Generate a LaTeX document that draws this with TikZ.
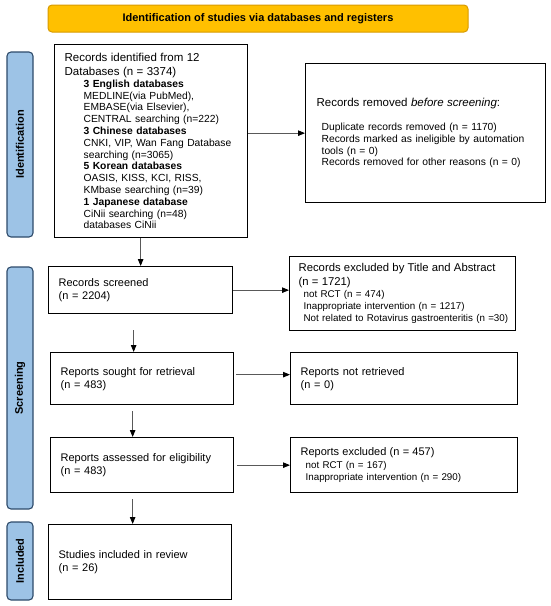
\documentclass[tikz,border=0pt]{standalone}
\usepackage{fontspec}
\setmainfont{Liberation Sans}
\usetikzlibrary{arrows.meta,calc}
\definecolor{bannerfill}{HTML}{FFC000}
\definecolor{bannerdraw}{HTML}{D89B00}
\definecolor{sidefill}{HTML}{9DC3E6}
\definecolor{sidedraw}{HTML}{2E4B6B}
\newcommand\mainsz{\fontsize{11.5}{13.5}\selectfont}
\newcommand\lowsz{\fontsize{11}{13}\selectfont}
\newcommand\subsz{\fontsize{10.3}{11.8}\selectfont}
\newcommand\subszb{\fontsize{9.8}{12.2}\selectfont}
\begin{document}
\begin{tikzpicture}[x=1pt,y=-1pt,
 box/.style={draw, line width=1.3pt, fill=white, anchor=north west, align=left, inner xsep=10pt, inner ysep=0pt},
 side/.style={draw=sidedraw, fill=sidefill, line width=1.1pt, rounded corners=4pt, inner sep=0pt, rotate=90, font=\fontsize{11}{13}\selectfont\bfseries},
 conn/.style={draw=black!65, line width=0.9pt, -{Triangle[length=7pt,width=5.5pt,color=black]}}
]
\fill[white] (0,0) rectangle (550,606);
\useasboundingbox (0,0) rectangle (550,606);

\node[draw=bannerdraw, fill=bannerfill, line width=1pt, rounded corners=4pt, minimum width=420pt, minimum height=27pt, inner sep=0pt, font=\fontsize{11}{13}\selectfont\bfseries] (banner) at (258,18.5) {Identification of studies via databases and registers};

\node[side, minimum width=185pt, minimum height=26pt] (sid) at (20,144.5) {Identification};
\node[side, minimum width=242pt, minimum height=26pt] (sscr) at (20,388) {Screening};
\node[side, minimum width=78pt, minimum height=26pt] (sinc) at (20,561) {Included};

\node[box, minimum width=193pt, minimum height=193pt, text width=173pt, font=\subsz] (id) at (54,44) {%
{\mainsz Records identified from 12\\[2.2pt] Databases (n = 3374)}\\
\hspace*{19pt}\textbf{3 English databases}\\
\hspace*{19pt}MEDLINE(via PubMed),\\
\hspace*{19pt}EMBASE(via Elsevier),\\
\hspace*{19pt}CENTRAL searching (n=222)\\
\hspace*{19pt}\textbf{3 Chinese databases}\\
\hspace*{19pt}CNKI, VIP, Wan Fang Database\\
\hspace*{19pt}searching (n=3065)\\
\hspace*{19pt}\textbf{5 Korean databases}\\
\hspace*{19pt}OASIS, KISS, KCI, RISS,\\
\hspace*{19pt}KMbase searching (n=39)\\
\hspace*{19pt}\textbf{1 Japanese database}\\
\hspace*{19pt}CiNii searching (n=48)\\
\hspace*{19pt}databases CiNii};

\node[box, minimum width=240pt, minimum height=139pt, text width=218pt, inner xsep=11pt, font=\subsz] (rem) at (305,63) {%
{\mainsz Records removed \textit{before screening}:}\\[12pt]
\hspace*{5pt}Duplicate records removed (n = 1170)\\
\hspace*{5pt}Records marked as ineligible by automation\\
\hspace*{5pt}tools (n = 0)\\
\hspace*{5pt}Records removed for other reasons (n = 0)};

\node[box, minimum width=184pt, minimum height=47pt, text width=164pt, font=\lowsz] (scr) at (48,266) {Records screened\\(n = 2204)};

\node[box, minimum width=226pt, minimum height=74pt, text width=216pt, inner xsep=5pt, font=\subszb] (exc) at (289,256) {%
{\fontsize{11.3}{13}\selectfont \hspace*{4pt}Records excluded by Title and Abstract\\[1pt] \hspace*{4pt}(n = 1721)}\\
\hspace*{9pt}not RCT (n = 474)\\
\hspace*{9pt}Inappropriate intervention (n = 1217)\\
\hspace*{9pt}Not related to Rotavirus gastroenteritis (n =30)};

\node[box, minimum width=183pt, minimum height=52pt, text width=163pt, font=\lowsz] (sou) at (50,352) {Reports sought for retrieval\\(n = 483)};

\node[box, minimum width=227pt, minimum height=52pt, text width=207pt, font=\lowsz] (nret) at (290,352) {Reports not retrieved\\(n = 0)};

\node[box, minimum width=183pt, minimum height=55pt, text width=163pt, font=\lowsz] (ass) at (50,437) {Reports assessed for eligibility\\(n = 483)};

\node[box, minimum width=227pt, minimum height=55pt, text width=207pt, font=\subszb] (rex) at (290,437) {%
{\lowsz Reports excluded (n = 457)}\\[0.5pt]
\hspace*{5pt}not RCT (n = 167)\\
\hspace*{5pt}Inappropriate intervention (n = 290)};

\node[box, minimum width=183pt, minimum height=75pt, text width=163pt, font=\lowsz] (inc) at (48,524) {Studies included in review\\(n = 26)};

\draw[conn] (rem.west -| id.east) -- (rem.west);
\draw[conn] (id.south -| scr.north) -- (scr.north);
\draw[conn] (scr.east) -- (scr.east -| exc.west);
\draw[conn] ($(scr.south)+(-7,16)$) -- ($(sou.north)+(-8.5,0)$);
\draw[conn] ($(sou.east)+(2,-4)$) -- ($(nret.west)+(0,-4)$);
\draw[conn] ($(sou.south)+(-9.5,6)$) -- ($(ass.north)+(-9.5,0)$);
\draw[conn] ($(ass.east)+(3,0)$) -- (ass.east -| rex.west);
\draw[conn] ($(ass.south)+(-9.5,6)$) -- ($(inc.north)+(-7.5,0)$);
\end{tikzpicture}
\end{document}
